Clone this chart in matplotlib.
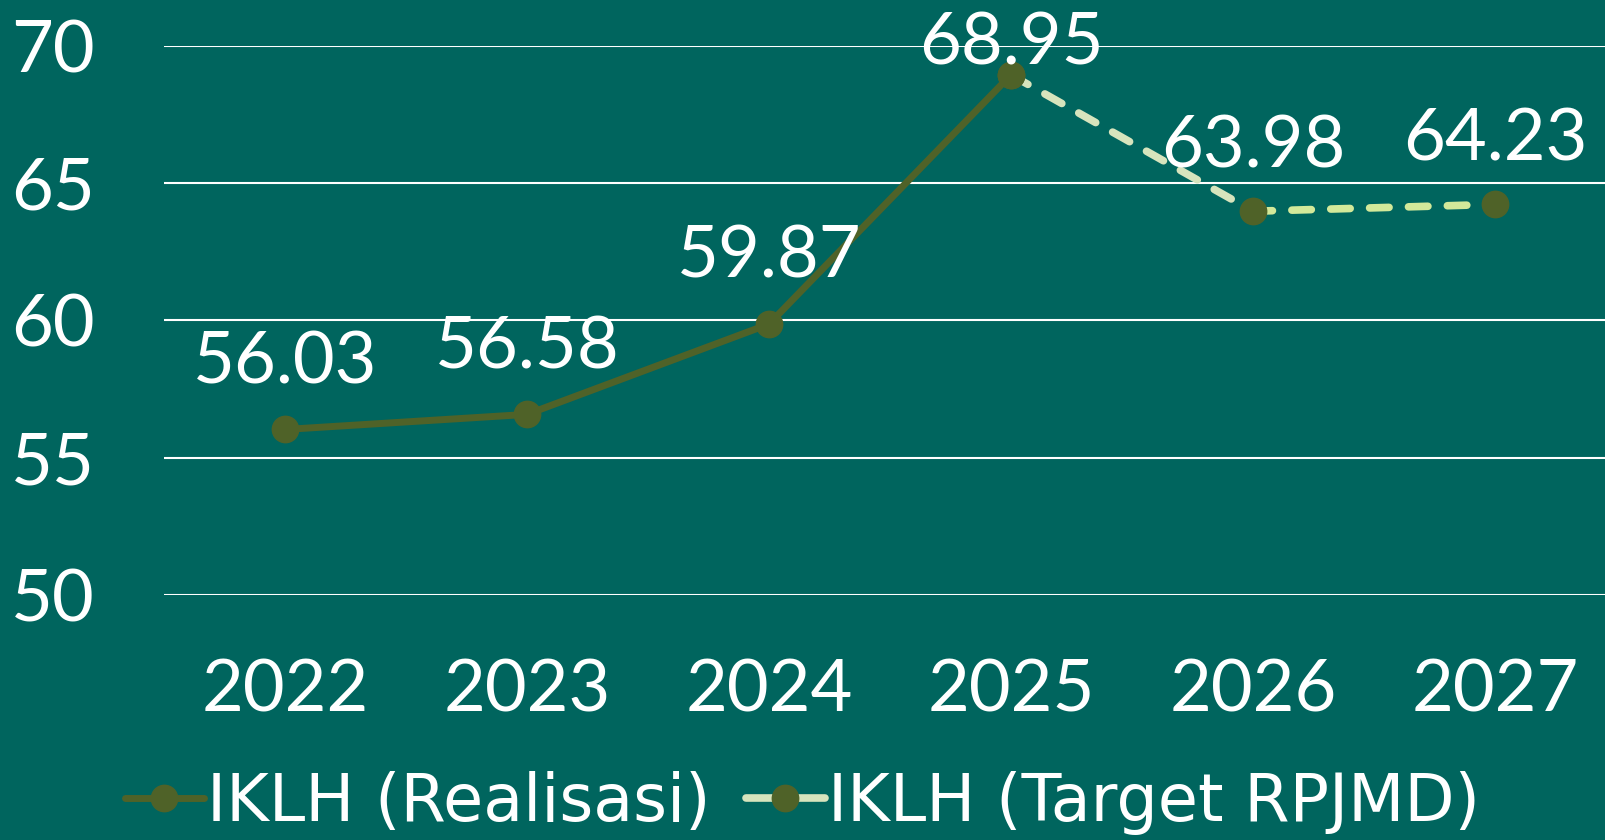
import matplotlib
matplotlib.use("Agg")
import matplotlib.pyplot as plt
import numpy as np

years = ["2022", "2023", "2024", "2025", "2026", "2027"]
realisasi = [56.03, 56.58, 59.87, 68.95, np.nan, np.nan]
target = [np.nan, np.nan, np.nan, 68.95, 63.98, 64.23]
yticks = [50, 55, 60, 65, 70]

BG = "#00655E"
OLIVE = "#4F6228"
PALE1 = "#D7E4BD"
PALE2 = "#D3E99A"

plt.rcParams['font.family'] = ['Lato', 'DejaVu Sans']
plt.rcParams['lines.scale_dashes'] = False

fig = plt.figure(figsize=(16.05, 8.4), dpi=100, facecolor=BG)
ax = fig.add_axes([164/1605, 1-595/840, 1452/1605, (595-46)/840], facecolor=BG)

x = np.arange(len(years))
ax.plot(x, realisasi, color=OLIVE, lw=5, marker='o', ms=19, mfc=OLIVE, mec=OLIVE,
        solid_capstyle='round', zorder=3, label="IKLH (Realisasi)")
# target line: first segment pale, second segment lighter yellow-green
ax.plot(x[3:5], target[3:5], color=PALE1, lw=5.5, ls=(0, (14, 14)), dash_capstyle='round', zorder=2)
ax.plot(x[4:6], target[4:6], color=PALE2, lw=5.5, ls=(0, (14, 14)), dash_capstyle='round', zorder=2)
ax.plot(x, target, lw=0, marker='o', ms=19, mfc=OLIVE, mec=OLIVE, zorder=4)
tgt_handle, = ax.plot([], [], color=PALE1, lw=5.5, ls='-', solid_capstyle='round', marker='o', ms=19,
                      mfc=OLIVE, mec=OLIVE, label="IKLH (Target RPJMD)")

ax.set_xlim(-0.5, 5.5)
ax.set_ylim(50, 70)
ax.set_yticks(yticks)
ax.set_xticks(x)
ax.set_xticklabels(years)
ax.grid(axis='y', color='white', lw=1.5)
ax.set_axisbelow(True)
for s in ax.spines.values():
    s.set_visible(False)
ax.tick_params(axis='both', length=0, colors='white', labelsize=52)
ax.tick_params(axis='y', pad=50)
ax.tick_params(axis='x', pad=46)

# data labels
labels_all = [realisasi[0], realisasi[1], realisasi[2], realisasi[3], target[4], target[5]]
offsets = [48, 48, 48, 22, 46, 46]
for i, (v, off) in enumerate(zip(labels_all, offsets)):
    ax.annotate(f"{v:.2f}", (x[i], v), xytext=(0, off), textcoords='offset points',
                ha='center', va='center', color='white', fontsize=52, zorder=5)

leg = fig.legend(handles=[ax.lines[0], tgt_handle], loc='center', bbox_to_anchor=(0.5, 1-803/840),
                 ncol=2, frameon=False, prop={'family': 'DejaVu Sans', 'size': 47},
                 handlelength=1.2, handletextpad=0.05, columnspacing=0.55, borderpad=0)
for t in leg.get_texts():
    t.set_color('white')

fig.savefig("out.png", dpi=100, facecolor=BG)
